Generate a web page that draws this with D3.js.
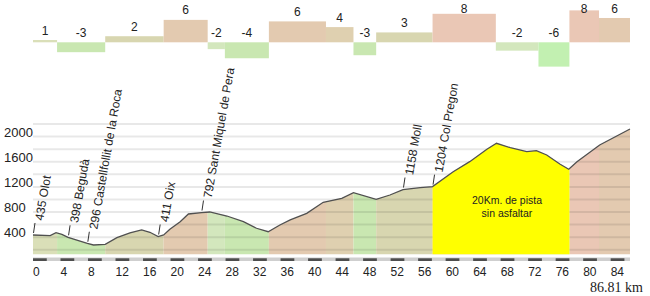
<!DOCTYPE html>
<html>
<head>
<meta charset="utf-8">
<script src="https://cdn.jsdelivr.net/npm/d3@7"></script>
<style>
  body { margin: 0; background: #fff; }
  svg { display: block; font-family: "Liberation Sans", Arial, sans-serif; }
</style>
</head>
<body>
<div id="chart"></div>
<script>
// profile (km, m)
const profileKm = [0, 2.5, 3.35, 4.2, 5.1, 7.9, 8.8, 10.5, 12.2, 14.1, 15.8, 17, 18.2, 19, 19.9, 21.4, 22.6, 24.5, 25.7, 28.2, 30.6, 32.5, 34.2, 35.9, 37.4, 39.8, 42.2, 44.9, 46.6, 49.9, 51.9, 53.8, 56.3, 58.1, 61.1, 63.5, 66, 67.4, 69.4, 71.8, 73.2, 74.7, 76.6, 77.9, 79.1, 82.4, 86.81];
const profileElev = [435, 424, 472, 446, 398, 300, 276, 287, 392, 470, 515, 478, 411, 435, 526, 647, 769, 792, 801, 737, 647, 542, 487, 594, 674, 780, 955, 1019, 1108, 1003, 1071, 1158, 1187, 1204, 1442, 1601, 1798, 1893, 1824, 1760, 1776, 1707, 1564, 1480, 1601, 1866, 2121];
const totalKm = 86.81;

// gradient segments
const segEnds = [3.5, 10.5, 19, 25.4, 27.9, 34.3, 42.6, 46.6, 49.9, 58.1, 67.3, 73.5, 78, 82.3, 86.81];
const grades = [0.6, -2.6, 1.6, 5.9, -1.8, -4.2, 5.5, 4.0, -3.4, 2.6, 7.5, -2.2, -6.4, 8.4, 6.4];
const gradeLabels = ["1", "-3", "2", "6", "-2", "-4", "6", "4", "-3", "3", "8", "-2", "-6", "8", "6"];

// named places
const placeKm = [0, 5.1, 7.9, 18.2, 24.5, 53.8, 58.1];
const placeElev = [435, 398, 296, 411, 792, 1158, 1204];
const placeNames = ["Olot", "Begudà", "Castellfollit de la Roca", "Oix", "Sant Miquel de Pera", "Moll", "Col Pregon"];

// unpaved stretch
const unpavedKm = [58.1, 78];
const unpavedText = ["20Km. de pista", "sin asfaltar"];

const yTicks = [400, 800, 1200, 1600, 2000];
const xTicks = d3.range(0, 85, 4);

const W = 650, H = 296;
const plotLeft = 33, plotRight = 630, plotTop = 124, plotBottom = 254.5;

const x = d3.scaleLinear().domain([0, totalKm]).range([plotLeft, plotRight]);
const y = d3.scaleLinear().domain([0, 2200]).range([262.35, plotTop]);
const barY = d3.scaleLinear().domain([0, 1]).range([42.3, 38.5]);

const gradeColor = d3.scaleThreshold()
    .domain([-5, -2.5, -1, 1, 3, 5, 7])
    .range(["#c2f0b1", "#c9e7b1", "#d3e7bd", "#dadfb8", "#d8d6b0", "#dfd0b0", "#e3cab0", "#eac7b5"]);

const segs = segEnds.map((e, i) => ({
    start: i === 0 ? 0 : segEnds[i - 1],
    end: e,
    grade: grades[i],
    label: gradeLabels[i]
}));

const profile = profileKm.map((k, i) => ({ km: k, elev: profileElev[i] }));

const svg = d3.select("#chart").append("svg")
    .attr("width", W)
    .attr("height", H);

// gradient bars on top
const bars = svg.append("g");
bars.selectAll("rect")
    .data(segs)
    .enter()
    .append("rect")
    .attr("x", d => x(d.start))
    .attr("width", d => x(d.end) - x(d.start))
    .attr("y", d => Math.min(barY(d.grade), barY(0)))
    .attr("height", d => Math.abs(barY(d.grade) - barY(0)))
    .attr("fill", d => gradeColor(d.grade));

bars.selectAll("text")
    .data(segs)
    .enter()
    .append("text")
    .attr("x", d => (x(d.start) + x(d.end)) / 2)
    .attr("y", d => Math.max(Math.min(barY(d.grade), barY(0)) - 5.5, 13))
    .attr("text-anchor", "middle")
    .style("font-size", "12px")
    .style("fill", "#222")
    .text(d => d.label);

// profile area clip
const area = d3.area()
    .x(d => x(d.km))
    .y0(plotBottom)
    .y1(d => y(d.elev));

svg.append("defs")
    .append("clipPath")
    .attr("id", "under")
    .append("path")
    .attr("d", area(profile));

// coloured bands under the profile
svg.append("g")
    .attr("clip-path", "url(#under)")
    .selectAll("rect")
    .data(segs)
    .enter()
    .append("rect")
    .attr("x", d => x(d.start))
    .attr("width", d => x(d.end) - x(d.start))
    .attr("y", plotTop)
    .attr("height", plotBottom - plotTop)
    .attr("fill", d => gradeColor(d.grade));

// grid
svg.append("g")
    .selectAll("line")
    .data(d3.range(200, 2201, 200))
    .enter()
    .append("line")
    .attr("x1", plotLeft)
    .attr("x2", plotRight)
    .attr("y1", d => y(d))
    .attr("y2", d => y(d))
    .attr("stroke", "#000")
    .attr("stroke-opacity", 0.09)
    .attr("stroke-width", 2);

// unpaved section
svg.append("rect")
    .attr("clip-path", "url(#under)")
    .attr("x", x(unpavedKm[0]))
    .attr("width", x(unpavedKm[1]) - x(unpavedKm[0]))
    .attr("y", plotTop)
    .attr("height", plotBottom - plotTop)
    .attr("fill", "#ffff00");

svg.append("text")
    .attr("text-anchor", "middle")
    .style("font-size", "10.5px")
    .style("fill", "#222")
    .selectAll("tspan")
    .data(unpavedText)
    .enter()
    .append("tspan")
    .attr("x", x((unpavedKm[0] + unpavedKm[1]) / 2) + 6)
    .attr("y", (d, i) => 204 + i * 13)
    .text(d => d);

// profile line
svg.append("path")
    .datum(profile)
    .attr("d", d3.line().x(d => x(d.km)).y(d => y(d.elev)))
    .attr("fill", "none")
    .attr("stroke", "#505050")
    .attr("stroke-width", 1.3);

// place labels, slanted
const places = placeKm.map((k, i) => ({ km: k, elev: placeElev[i], name: placeNames[i] }));
const pl = svg.append("g").selectAll("g")
    .data(places)
    .enter()
    .append("g")
    .attr("transform", d => `translate(${x(d.km)},${y(d.elev)})`);

pl.append("line")
    .attr("x1", 0.5).attr("x2", 2)
    .attr("y1", -2).attr("y2", -12)
    .attr("stroke", "#333")
    .attr("stroke-width", 1);

pl.append("text")
    .attr("transform", "translate(10,-14) rotate(-80)")
    .style("font-size", "12px")
    .style("fill", "#222")
    .text(d => `${d.elev} ${d.name}`);

// y axis labels
svg.append("g")
    .selectAll("text")
    .data(yTicks)
    .enter()
    .append("text")
    .attr("x", 4)
    .attr("y", d => y(d))
    .style("font-size", "13px")
    .style("fill", "#222")
    .text(d => d);

// km ruler
svg.append("rect")
    .attr("x", plotLeft)
    .attr("y", 257.5)
    .attr("width", plotRight - plotLeft)
    .attr("height", 3.5)
    .attr("fill", "#cfcfcf");

svg.append("g")
    .selectAll("rect")
    .data(d3.range(0, totalKm, 4))
    .enter()
    .append("rect")
    .attr("x", d => x(d))
    .attr("width", d => x(Math.min(d + 2, totalKm)) - x(d))
    .attr("y", 258.3)
    .attr("height", 2.7)
    .attr("fill", "#4d4d4d");

svg.append("g")
    .selectAll("text")
    .data(xTicks)
    .enter()
    .append("text")
    .attr("x", d => x(d))
    .attr("y", 276)
    .style("font-size", "12px")
    .style("fill", "#222")
    .text(d => d);

svg.append("text")
    .attr("x", 643)
    .attr("y", 292)
    .attr("text-anchor", "end")
    .style("font-family", "'Liberation Serif', 'Times New Roman', serif")
    .style("font-size", "14px")
    .style("fill", "#222")
    .text(`${totalKm} km`);
</script>
</body>
</html>
